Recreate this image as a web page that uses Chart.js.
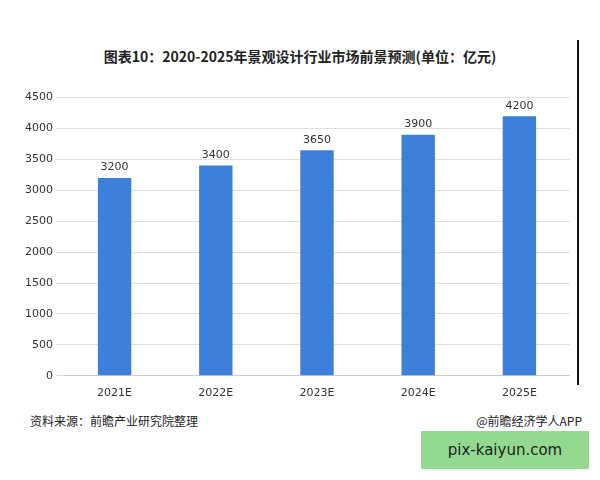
<!DOCTYPE html>
<html><head><meta charset="utf-8">
<script src="https://cdn.jsdelivr.net/npm/chart.js@4/dist/chart.umd.min.js"></script>
<style>
body{margin:0;background:#fff;width:600px;height:480px;position:relative;overflow:hidden;font-family:"Noto Sans CJK SC",sans-serif}
#title{position:absolute;top:46px;left:0;width:600px;text-align:center;font-size:14px;font-weight:bold;color:#222}
#wrap{position:absolute;left:22px;top:88px;width:548px;height:315px}
#src{position:absolute;left:30px;top:412px;font-size:12px;color:#222}
#app{position:absolute;right:18px;top:412px;font-size:12px;color:#222}
#vl{position:absolute;left:577px;top:40px;width:2px;height:345px;background:#111}
#wm{position:absolute;left:421px;top:431px;width:168px;height:38px;background:#93d98f;color:#222;font-size:15px;line-height:38px;text-align:center;font-family:"DejaVu Sans"}
</style></head><body>
<div id="title">图表10：2020-2025年景观设计行业市场前景预测(单位：亿元)</div>
<div id="wrap"><canvas id="c"></canvas></div>
<div id="vl"></div>
<div id="src">资料来源：前瞻产业研究院整理</div>
<div id="app">@前瞻经济学人APP</div>
<div id="wm">pix-kaiyun.com</div>
<script>
const categories=["2021E","2022E","2023E","2024E","2025E"];
const values=[3200,3400,3650,3900,4200];
const labelPlugin={id:'lbl',afterDatasetsDraw(ch){const ctx=ch.ctx;const m=ch.getDatasetMeta(0);ctx.save();ctx.font='11px "DejaVu Sans"';ctx.fillStyle='#333';ctx.textAlign='center';ctx.textBaseline='bottom';m.data.forEach((b,i)=>ctx.fillText(values[i],b.x,b.y-5));ctx.restore();}};
new Chart(document.getElementById('c'),{type:'bar',data:{labels:categories,datasets:[{data:values,backgroundColor:'#3d80db',barPercentage:0.66,categoryPercentage:0.5}]},
options:{responsive:true,maintainAspectRatio:false,animation:false,layout:{padding:{top:0,right:0}},plugins:{legend:{display:false},tooltip:{enabled:false}},
scales:{x:{grid:{display:false},border:{color:'#ccc'},ticks:{color:'#333',font:{size:11,family:'DejaVu Sans'}}},
y:{min:0,max:4500,ticks:{stepSize:500,color:'#333',font:{size:11,family:'DejaVu Sans'},callback:v=>String(v)},grid:{color:'#e0e0e0'},border:{display:false}}}},plugins:[labelPlugin]});
</script></body></html>
